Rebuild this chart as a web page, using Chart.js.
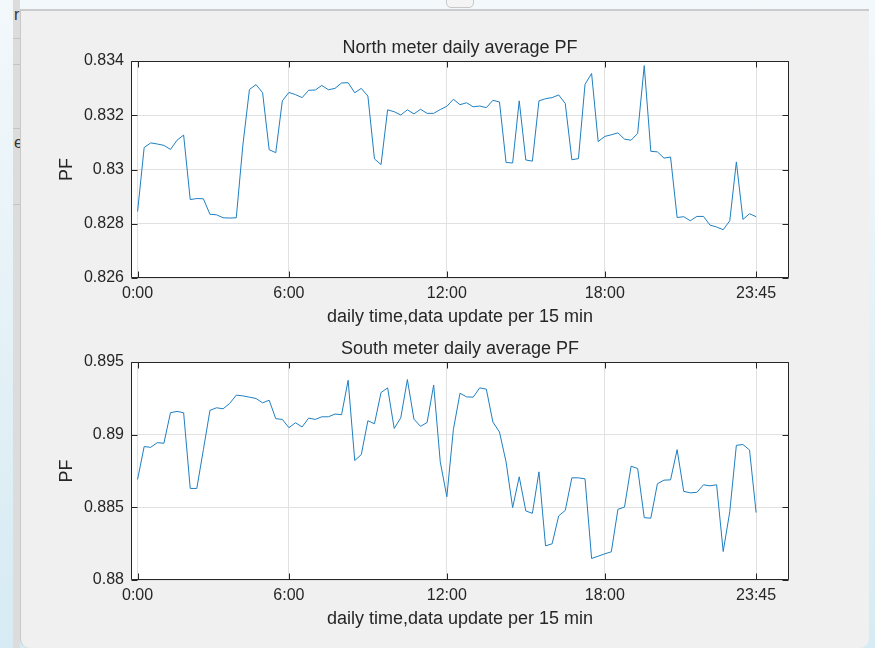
<!DOCTYPE html>
<html>
<head>
<meta charset="utf-8">
<script src="https://cdn.jsdelivr.net/npm/chart.js@4.4.1/dist/chart.umd.min.js"></script>
<style>
  html, body { margin: 0; padding: 0; }
  body {
    width: 875px; height: 648px; position: relative; overflow: hidden;
    background: linear-gradient(#f3f8fb, #d6ebf3);
    font-family: "Liberation Sans", Arial, sans-serif;
  }
  #strip { position: absolute; left: 13px; top: 0; width: 7px; height: 648px; background: #dcdcdc; overflow: hidden; }
  #strip span { position: absolute; left: 1px; font-size: 16px; color: #333; }
  #strip i { position: absolute; left: 0; width: 7px; height: 1px; background: #c4c4c4; }
  #win {
    position: absolute; left: 20px; top: 9px; width: 849px; height: 639px;
    background: #f0f0f0; border-top: 2px solid #cbcbcb; border-left: 1px solid #c8c8c8;
    border-radius: 0 0 9px 9px; box-sizing: border-box;
  }
  #tab { position: absolute; left: 446px; top: -2px; width: 26px; height: 8px; border: 1px solid #c8c8c8; border-radius: 0 0 5px 5px; background: #f4f4f4; }
  canvas { position: absolute; left: 0; }
  #north { top: 0; }
  #south { top: 336px; }
</style>
</head>
<body>
<div id="strip"><span style="top:6px">r</span><span style="top:134px">e</span><i style="top:38px"></i><i style="top:64px"></i><i style="top:128px"></i><i style="top:204px"></i></div>
<div id="win"></div>
<div id="tab"></div>
<canvas id="north" width="875" height="336"></canvas>
<canvas id="south" width="875" height="312"></canvas>
<script>
// 95 samples, one per 15 min
const xTickPos = [1, 24, 48, 72, 95];
const xTickLabels = ['0:00', '6:00', '12:00', '18:00', '23:45'];

const northPF = [
  0.82845, 0.83081, 0.83098, 0.83094, 0.83089, 0.83074, 0.83108, 0.83127, 0.82889, 0.82893,
  0.82892, 0.82835, 0.82833, 0.82822, 0.82821, 0.82822, 0.83090, 0.83295, 0.83313, 0.83283,
  0.83073, 0.83062, 0.83253, 0.83284, 0.83276, 0.83265, 0.83292, 0.83293, 0.83310, 0.83294,
  0.83299, 0.83319, 0.83320, 0.83283, 0.83299, 0.83271, 0.83039, 0.83018, 0.83220, 0.83213,
  0.83201, 0.83220, 0.83205, 0.83222, 0.83207, 0.83207, 0.83221, 0.83233, 0.83259, 0.83239,
  0.83246, 0.83231, 0.83234, 0.83228, 0.83255, 0.83249, 0.83026, 0.83024, 0.83253, 0.83035,
  0.83031, 0.83253, 0.83261, 0.83265, 0.83275, 0.83243, 0.83036, 0.83040, 0.83314, 0.83354,
  0.83103, 0.83122, 0.83128, 0.83135, 0.83112, 0.83108, 0.83133, 0.83383, 0.83067, 0.83065,
  0.83042, 0.83046, 0.82823, 0.82826, 0.82811, 0.82827, 0.82827, 0.82795, 0.82788, 0.82778,
  0.82811, 0.83028, 0.82816, 0.82837, 0.82826
];
const northTicks = [0.826, 0.828, 0.830, 0.832, 0.834];

const southPF = [
  0.88692, 0.88918, 0.88913, 0.88945, 0.88941, 0.89151, 0.89160, 0.89151, 0.88630, 0.88630,
  0.88897, 0.89167, 0.89185, 0.89178, 0.89215, 0.89272, 0.89267, 0.89258, 0.89249, 0.89219,
  0.89237, 0.89110, 0.89105, 0.89048, 0.89082, 0.89053, 0.89114, 0.89105, 0.89123, 0.89123,
  0.89142, 0.89137, 0.89374, 0.88822, 0.88863, 0.89096, 0.89075, 0.89290, 0.89322, 0.89043,
  0.89116, 0.89379, 0.89107, 0.89057, 0.89084, 0.89342, 0.88813, 0.88573, 0.89037, 0.89285,
  0.89260, 0.89258, 0.89322, 0.89313, 0.89087, 0.89018, 0.88813, 0.88498, 0.88710, 0.88475,
  0.88459, 0.88744, 0.88235, 0.88249, 0.88441, 0.88479, 0.88703, 0.88703, 0.88696, 0.88148,
  0.88164, 0.88180, 0.88194, 0.88486, 0.88502, 0.88783, 0.88767, 0.88429, 0.88425, 0.88662,
  0.88687, 0.88689, 0.88897, 0.88610, 0.88600, 0.88603, 0.88655, 0.88648, 0.88655, 0.88196,
  0.88470, 0.88927, 0.88932, 0.88895, 0.88464
];
const southTicks = [0.880, 0.885, 0.890, 0.895];

const textColor = '#262626';
const gridColor = '#e1e1e1';
Chart.defaults.font.family = '"Liberation Sans", Arial, sans-serif';

// white axes background, box and inward ticks like matlab
const matlabAxes = {
  id: 'matlabAxes',
  beforeDraw(chart) {
    const { ctx, chartArea: a } = chart;
    ctx.save();
    ctx.fillStyle = '#ffffff';
    ctx.fillRect(a.left, a.top, a.right - a.left, a.bottom - a.top);
    ctx.restore();
  },
  afterDraw(chart) {
    const { ctx, chartArea: a, scales: { x, y } } = chart;
    const L = Math.round(a.left) + 0.5, R = Math.round(a.right) - 0.5;
    const T = Math.round(a.top) + 0.5, B = Math.round(a.bottom) - 0.5;
    ctx.save();
    ctx.strokeStyle = textColor;
    ctx.lineWidth = 1;
    ctx.beginPath();
    ctx.rect(L, T, R - L, B - T);
    x.ticks.forEach(t => {
      const px = Math.round(x.getPixelForValue(t.value)) + 0.5;
      ctx.moveTo(px, B); ctx.lineTo(px, B - 6);
      ctx.moveTo(px, T); ctx.lineTo(px, T + 6);
    });
    y.ticks.forEach(t => {
      const py = Math.round(y.getPixelForValue(t.value)) + 0.5;
      ctx.moveTo(L, py); ctx.lineTo(L + 6, py);
      ctx.moveTo(R, py); ctx.lineTo(R - 6, py);
    });
    ctx.stroke();
    ctx.restore();
  }
};

function dibujar(id, titulo, valores, yTicks, padding) {
  new Chart(document.getElementById(id), {
    type: 'line',
    data: {
      datasets: [{
        data: valores.map((v, i) => ({ x: i + 1, y: v })),
        borderColor: '#1f7fc2',
        borderWidth: 1,
        pointRadius: 0,
        tension: 0,
        fill: false
      }]
    },
    options: {
      responsive: false,
      animation: false,
      events: [],
      layout: { padding: padding },
      plugins: {
        legend: { display: false },
        tooltip: { enabled: false },
        title: { display: false }
      },
      scales: {
        x: {
          type: 'linear',
          min: 0,
          max: 100,
          afterBuildTicks: s => { s.ticks = xTickPos.map(v => ({ value: v })); },
          afterFit: s => { s.height = 50; },
          ticks: {
            autoSkip: false, maxRotation: 0, padding: 6,
            color: textColor, font: { size: 16 },
            callback: (v, i) => xTickLabels[i]
          },
          grid: { color: gridColor, drawTicks: false },
          border: { display: false },
          title: {
            display: true, text: 'daily time,data update per 15 min',
            color: textColor, font: { size: 18 }, padding: 0
          }
        },
        // top axis only carries the title, so it is centred on the plot box
        t: {
          type: 'linear',
          position: 'top',
          min: 0,
          max: 100,
          afterFit: s => { s.height = 23.8; },
          ticks: { display: false },
          grid: { display: false, drawTicks: false },
          border: { display: false },
          title: {
            display: true, text: titulo,
            color: textColor, font: { size: 18 }, padding: 0
          }
        },
        y: {
          min: yTicks[0],
          max: yTicks[yTicks.length - 1],
          afterBuildTicks: s => { s.ticks = yTicks.map(v => ({ value: v })); },
          afterFit: s => { s.width = 75; },
          ticks: {
            padding: 7, color: textColor, font: { size: 16 },
            callback: v => String(+v.toFixed(3))
          },
          grid: { color: gridColor, drawTicks: false },
          border: { display: false },
          title: { display: true, text: 'PF', color: textColor, font: { size: 18 }, padding: 0 }
        }
      }
    },
    plugins: [matlabAxes]
  });
}

dibujar('north', 'North meter daily average PF', northPF, northTicks, { left: 56, right: 86, top: 37.2, bottom: 8 });
dibujar('south', 'South meter daily average PF', southPF, southTicks, { left: 56, right: 86, top: 2.2, bottom: 18 });
</script>
</body>
</html>
